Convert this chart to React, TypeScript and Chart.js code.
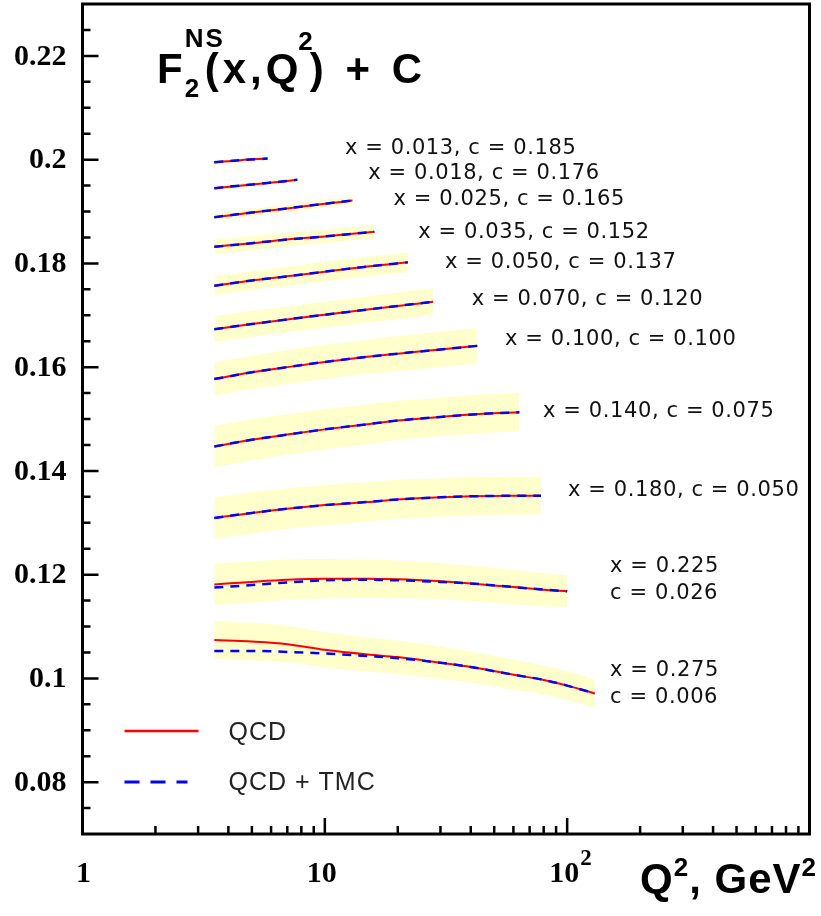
import React, { useEffect, useRef } from 'react';
import { Chart, registerables } from 'chart.js';

Chart.register(...registerables);

// ---------------- data ----------------
const X_BJ = ['0.013', '0.018', '0.025', '0.035', '0.050', '0.070', '0.100', '0.140', '0.180', '0.225', '0.275'];
const C_SHIFT = ['0.185', '0.176', '0.165', '0.152', '0.137', '0.120', '0.100', '0.075', '0.050', '0.026', '0.006'];

const Q2_013 = [3.5, 4.5, 5.8];
const QCD_013 = [0.1995, 0.1999, 0.2002];
const TMC_013 = [0.1995, 0.1999, 0.2002];
const ERR_013 = [0.0003, 0.0003, 0.0003];

const Q2_018 = [3.5, 5.8, 7.7];
const QCD_018 = [0.1945, 0.1955, 0.1961];
const TMC_018 = [0.1945, 0.1955, 0.1961];
const ERR_018 = [0.0004, 0.0004, 0.0005];

const Q2_025 = [3.5, 5, 7, 10, 13];
const QCD_025 = [0.1889, 0.1898, 0.1906, 0.1915, 0.1921];
const TMC_025 = [0.1889, 0.1898, 0.1906, 0.1915, 0.1921];
const ERR_025 = [0.0007, 0.0007, 0.0007, 0.0008, 0.0008];

const Q2_035 = [3.5, 5, 7, 10, 13, 16];
const QCD_035 = [0.1832, 0.1839, 0.1846, 0.1852, 0.1857, 0.1861];
const TMC_035 = [0.1832, 0.1839, 0.1846, 0.1852, 0.1857, 0.1861];
const ERR_035 = [0.0014, 0.0014, 0.0013, 0.0013, 0.0013, 0.0013];

const Q2_050 = [3.5, 5, 7, 10, 15, 22];
const QCD_050 = [0.1757, 0.1767, 0.1775, 0.1784, 0.1794, 0.1802];
const TMC_050 = [0.1757, 0.1767, 0.1775, 0.1784, 0.1794, 0.1802];
const ERR_050 = [0.0018, 0.0018, 0.0018, 0.0019, 0.0019, 0.0019];

const Q2_070 = [3.5, 5, 7, 10, 15, 20, 28];
const QCD_070 = [0.1673, 0.1683, 0.1692, 0.1701, 0.1711, 0.1718, 0.1726];
const TMC_070 = [0.1673, 0.1683, 0.1692, 0.1701, 0.1711, 0.1718, 0.1726];
const ERR_070 = [0.0025, 0.0025, 0.0025, 0.0025, 0.0025, 0.0026, 0.0026];

const Q2_100 = [3.5, 5, 7, 10, 15, 20, 30, 42.6];
const QCD_100 = [0.1577, 0.1590, 0.1600, 0.1610, 0.1620, 0.1626, 0.1634, 0.1641];
const TMC_100 = [0.1577, 0.1590, 0.1600, 0.1610, 0.1620, 0.1626, 0.1634, 0.1641];
const ERR_100 = [0.0032, 0.0032, 0.0033, 0.0033, 0.0033, 0.0034, 0.0034, 0.0034];

const Q2_140 = [3.5, 5, 7, 10, 15, 20, 30, 45, 63.5];
const QCD_140 = [0.1447, 0.1460, 0.1470, 0.1480, 0.1490, 0.1497, 0.1504, 0.1510, 0.1513];
const TMC_140 = [0.1447, 0.1460, 0.1470, 0.1480, 0.1490, 0.1497, 0.1504, 0.1510, 0.1513];
const ERR_140 = [0.0040, 0.0040, 0.0039, 0.0039, 0.0038, 0.0038, 0.0037, 0.0037, 0.0037];

const Q2_180 = [3.5, 5, 7, 10, 15, 20, 30, 40, 60, 78];
const QCD_180 = [0.1309, 0.1319, 0.1327, 0.1334, 0.1340, 0.1345, 0.1349, 0.1351, 0.1352, 0.1352];
const TMC_180 = [0.1309, 0.1319, 0.1327, 0.1334, 0.1340, 0.1345, 0.1349, 0.1351, 0.1352, 0.1352];
const ERR_180 = [0.0040, 0.0040, 0.0039, 0.0039, 0.0038, 0.0038, 0.0037, 0.0037, 0.0036, 0.0036];

const Q2_225 = [3.5, 5, 7, 10, 15, 20, 30, 40, 60, 80, 100];
const QCD_225 = [0.1181, 0.1186, 0.1190, 0.1192, 0.1192, 0.1191, 0.1187, 0.1183, 0.1176, 0.1171, 0.1168];
const TMC_225 = [0.1175, 0.1180, 0.1185, 0.1189, 0.1190, 0.1189, 0.1186, 0.1183, 0.1176, 0.1171, 0.1168];
const ERR_225 = [0.0040, 0.0040, 0.0039, 0.0038, 0.0037, 0.0036, 0.0035, 0.0034, 0.0033, 0.0032, 0.0031];

const Q2_275 = [3.5, 5, 7, 10, 15, 20, 30, 40, 60, 80, 100, 130];
const QCD_275 = [0.1074, 0.1071, 0.1066, 0.1055, 0.1046, 0.1041, 0.1030, 0.1022, 0.1007, 0.0997, 0.0986, 0.0971];
const TMC_275 = [0.1053, 0.1053, 0.1051, 0.1048, 0.1043, 0.1039, 0.1030, 0.1022, 0.1007, 0.0997, 0.0986, 0.0971];
const ERR_275 = [0.0037, 0.0036, 0.0035, 0.0034, 0.0033, 0.0032, 0.0031, 0.0030, 0.0029, 0.0028, 0.0028, 0.0027];

const Y_MAJOR = [0.08, 0.10, 0.12, 0.14, 0.16, 0.18, 0.20, 0.22];
const Y_LABELS = ['0.08', '0.1', '0.12', '0.14', '0.16', '0.18', '0.2', '0.22'];
const X_MAJOR = [1, 10, 100];
const X_LABELS = ['1', '10', '10'];
const X_EXPS = ['', '', '2'];

const LEGEND_LABELS = ['QCD', 'QCD + TMC'];

// ---------------- layout (not data) ----------------
const X_MIN = 1, X_MAX = 1000, Y_MIN = 0.07, Y_MAX = 0.23;
// annotation anchors in data coords: [Q2 of left edge, F of text centre]
const LABEL_ANCHOR = [
  [12.1, 0.2021], [15.1, 0.1974], [19.2, 0.1924], [24.3, 0.1860], [31.3, 0.1802],
  [40.4, 0.1731], [55.4, 0.1654], [79.5, 0.1515], [100.8, 0.1363], [150.3, 0.1215], [150.3, 0.1016],
];

const SERIES = [
  { q2: Q2_013, qcd: QCD_013, tmc: TMC_013, err: ERR_013 },
  { q2: Q2_018, qcd: QCD_018, tmc: TMC_018, err: ERR_018 },
  { q2: Q2_025, qcd: QCD_025, tmc: TMC_025, err: ERR_025 },
  { q2: Q2_035, qcd: QCD_035, tmc: TMC_035, err: ERR_035 },
  { q2: Q2_050, qcd: QCD_050, tmc: TMC_050, err: ERR_050 },
  { q2: Q2_070, qcd: QCD_070, tmc: TMC_070, err: ERR_070 },
  { q2: Q2_100, qcd: QCD_100, tmc: TMC_100, err: ERR_100 },
  { q2: Q2_140, qcd: QCD_140, tmc: TMC_140, err: ERR_140 },
  { q2: Q2_180, qcd: QCD_180, tmc: TMC_180, err: ERR_180 },
  { q2: Q2_225, qcd: QCD_225, tmc: TMC_225, err: ERR_225 },
  { q2: Q2_275, qcd: QCD_275, tmc: TMC_275, err: ERR_275 },
];

const BAND = '#FFFFCC';
const RED = '#FF0000';
const BLUE = '#0000FF';
const SERIF = '"Liberation Serif", "Times New Roman", serif';
const SANS = '"Liberation Sans", Arial, sans-serif';
const LABEL_FONT = '"DejaVu Sans", Verdana, sans-serif';

function buildDatasets() {
  const ds: any[] = [];
  SERIES.forEach((s) => {
    ds.push({
      data: s.q2.map((q, j) => ({ x: q, y: s.qcd[j] - s.err[j] })),
      borderWidth: 0, pointRadius: 0, fill: false, order: 5,
      borderColor: 'rgba(0,0,0,0)', cubicInterpolationMode: 'monotone',
    });
    ds.push({
      data: s.q2.map((q, j) => ({ x: q, y: s.qcd[j] + s.err[j] })),
      borderWidth: 0, pointRadius: 0, fill: '-1', order: 5,
      backgroundColor: BAND, borderColor: 'rgba(0,0,0,0)', cubicInterpolationMode: 'monotone',
    });
  });
  SERIES.forEach((s) => {
    ds.push({
      data: s.q2.map((q, j) => ({ x: q, y: s.qcd[j] })),
      borderColor: RED, borderWidth: 2, pointRadius: 0, fill: false, order: 2,
      cubicInterpolationMode: 'monotone',
    });
  });
  SERIES.forEach((s) => {
    ds.push({
      data: s.q2.map((q, j) => ({ x: q, y: s.tmc[j] })),
      borderColor: BLUE, borderWidth: 2.5, borderDash: [9, 7], pointRadius: 0, fill: false, order: 1,
      cubicInterpolationMode: 'monotone',
    });
  });
  return ds;
}

function setSpacing(ctx: any, v: string) {
  try { ctx.letterSpacing = v; } catch (e) { /* ignore */ }
}

const decor = {
  id: 'decor',
  afterDraw(chart: any) {
    const { ctx, chartArea: a, scales } = chart;
    const xs = scales.x, ys = scales.y;
    ctx.save();

    // ticks (inside)
    ctx.strokeStyle = '#000';
    ctx.lineWidth = 2.5;
    ctx.beginPath();
    for (let k = 15; k <= 45; k++) {
      const v = k * 0.005;
      if (v <= Y_MIN + 1e-9 || v >= Y_MAX - 1e-9) continue;
      const py = ys.getPixelForValue(v);
      const len = k % 4 === 0 ? 16 : 8;
      ctx.moveTo(a.left, py);
      ctx.lineTo(a.left + len, py);
    }
    [1, 10, 100].forEach((dec) => {
      for (let m = 1; m <= 9; m++) {
        const v = m * dec;
        if (v <= X_MIN || v >= X_MAX) continue;
        const px = xs.getPixelForValue(v);
        const len = m === 1 ? 16 : 8;
        ctx.moveTo(px, a.bottom);
        ctx.lineTo(px, a.bottom - len);
      }
    });
    ctx.stroke();

    // frame
    ctx.lineWidth = 3;
    ctx.strokeRect(a.left, a.top, a.right - a.left, a.bottom - a.top);

    // y tick labels
    ctx.fillStyle = '#000';
    ctx.font = `bold 30px ${SERIF}`;
    ctx.textAlign = 'right';
    ctx.textBaseline = 'middle';
    Y_MAJOR.forEach((v, i) => {
      ctx.fillText(Y_LABELS[i], a.left - 16, ys.getPixelForValue(v) + 1);
    });

    // x tick labels
    X_MAJOR.forEach((v, i) => {
      const px = xs.getPixelForValue(v);
      ctx.font = `bold 30px ${SERIF}`;
      ctx.textAlign = 'center';
      ctx.textBaseline = 'alphabetic';
      const w = ctx.measureText(X_LABELS[i]).width;
      const cx = i === 0 ? px + 1 : px - 3;
      ctx.fillText(X_LABELS[i], cx, a.bottom + 48);
      if (X_EXPS[i]) {
        ctx.font = `bold 23px ${SERIF}`;
        ctx.textAlign = 'left';
        ctx.fillText(X_EXPS[i], cx + w / 2 + 1, a.bottom + 31);
      }
    });

    // axis title  Q^2, GeV^2
    {
      let tx = 640;
      const base = 893;
      ctx.textAlign = 'left';
      ctx.textBaseline = 'alphabetic';
      setSpacing(ctx, '1px');
      ctx.font = `bold 42px ${SANS}`;
      ctx.fillText('Q', tx, base); tx += ctx.measureText('Q').width;
      ctx.font = `bold 26px ${SANS}`;
      ctx.fillText('2', tx, base - 17); tx += ctx.measureText('2').width;
      ctx.font = `bold 42px ${SANS}`;
      ctx.fillText(', GeV', tx, base); tx += ctx.measureText(', GeV').width;
      ctx.font = `bold 26px ${SANS}`;
      ctx.fillText('2', tx, base - 17);
      setSpacing(ctx, '0px');
    }

    // title F2^NS(x,Q^2) + C
    {
      let tx = 157;
      const base = 83;
      ctx.textAlign = 'left';
      ctx.textBaseline = 'alphabetic';
      ctx.font = `bold 42px ${SANS}`;
      ctx.fillText('F', tx, base); tx += ctx.measureText('F').width + 2;
      ctx.font = `bold 26px ${SANS}`;
      ctx.fillText('2', tx, base + 14);
      setSpacing(ctx, '2px');
      ctx.fillText('NS', tx, base - 36);
      tx += 20;
      setSpacing(ctx, '4px');
      ctx.font = `bold 42px ${SANS}`;
      ctx.fillText('(x,Q', tx, base); tx += ctx.measureText('(x,Q').width - 4;
      setSpacing(ctx, '0px');
      ctx.font = `bold 26px ${SANS}`;
      ctx.fillText('2', tx, base - 33); tx += ctx.measureText('2').width - 3;
      setSpacing(ctx, '5px');
      ctx.font = `bold 42px ${SANS}`;
      ctx.fillText(') + C', tx, base);
      setSpacing(ctx, '0px');
    }

    // annotations
    ctx.font = `21px ${LABEL_FONT}`;
    setSpacing(ctx, '0.6px');
    ctx.fillStyle = '#111';
    ctx.textAlign = 'left';
    ctx.textBaseline = 'middle';
    X_BJ.forEach((xv, i) => {
      const [q, f] = LABEL_ANCHOR[i];
      const px = xs.getPixelForValue(q);
      const py = ys.getPixelForValue(f);
      if (i < 9) {
        ctx.fillText(`x = ${xv}, c = ${C_SHIFT[i]}`, px, py);
      } else {
        ctx.fillText(`x = ${xv}`, px, py);
        ctx.fillText(`c = ${C_SHIFT[i]}`, px, py + 27);
      }
    });
    setSpacing(ctx, '0px');

    // legend
    const lx = a.left + 42;
    const ly1 = a.top + 727;
    const ly2 = a.top + 778;
    ctx.lineWidth = 2.5;
    ctx.strokeStyle = RED;
    ctx.setLineDash([]);
    ctx.beginPath(); ctx.moveTo(lx, ly1); ctx.lineTo(lx + 74, ly1); ctx.stroke();
    ctx.lineWidth = 3;
    ctx.strokeStyle = BLUE;
    ctx.setLineDash([15, 11]);
    ctx.beginPath(); ctx.moveTo(lx, ly2); ctx.lineTo(lx + 63, ly2); ctx.stroke();
    ctx.setLineDash([]);
    ctx.fillStyle = '#222';
    ctx.font = `25px ${SANS}`;
    setSpacing(ctx, '1px');
    ctx.textBaseline = 'middle';
    ctx.fillText(LEGEND_LABELS[0], lx + 104, ly1 + 2);
    ctx.fillText(LEGEND_LABELS[1], lx + 104, ly2 + 1);
    setSpacing(ctx, '0px');

    ctx.restore();
  },
};

export default function App() {
  const ref = useRef<HTMLCanvasElement | null>(null);
  useEffect(() => {
    if (!ref.current) return;
    const chart = new Chart(ref.current, {
      type: 'line',
      data: { datasets: buildDatasets() },
      options: {
        responsive: false,
        animation: false,
        layout: { padding: { left: 0, top: 4, right: 11.5, bottom: 0 } },
        plugins: { legend: { display: false }, tooltip: { enabled: false } },
        scales: {
          x: {
            type: 'logarithmic', min: X_MIN, max: X_MAX,
            ticks: { display: false }, grid: { display: false }, border: { display: false },
            afterFit: (s: any) => { s.height = 82; },
          },
          y: {
            type: 'linear', min: Y_MIN, max: Y_MAX,
            ticks: { display: false }, grid: { display: false }, border: { display: false },
            afterFit: (s: any) => { s.width = 82.5; },
          },
        },
      } as any,
      plugins: [decor],
    });
    return () => chart.destroy();
  }, []);
  return (
    <div style={{ position: 'absolute', left: 0, top: 0, width: 821, height: 916, background: '#fff' }}>
      <canvas ref={ref} width={821} height={916} style={{ display: 'block' }} />
    </div>
  );
}
